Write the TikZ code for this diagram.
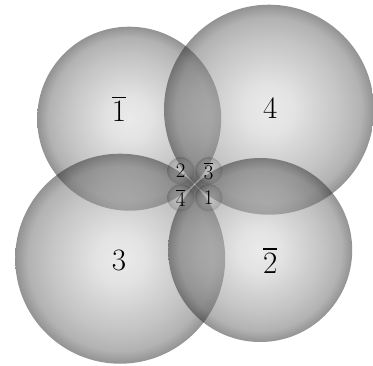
\documentclass[tikz,border=0pt]{standalone}
\usepackage{amsmath,amssymb}
\usepackage{tikz}
\usetikzlibrary{positioning}

\pgfdeclareradialshading{sphere}{\pgfpoint{0bp}{0bp}}{color(0bp)=(black!16); color(6bp)=(black!22); color(11bp)=(black!33); color(17bp)=(black!46); color(22bp)=(black!60); color(25bp)=(black!85); color(50bp)=(black!85)}
\newcommand{\bignum}[1]{\scalebox{1.25}{$#1$}}
\newcommand{\smallnum}[1]{\scalebox{1.2}{$#1$}}

\begin{document}
\begin{tikzpicture}[x=1pt, y=1pt, ball/.style={circle, inner sep=0pt, shading=sphere, fill opacity=0.5, text opacity=1}, big/.style={font=\Huge}, small/.style={font=\LARGE, fill opacity=0.25}]
	\useasboundingbox (-194.7,-180.8) rectangle (178.3,184.2);
	% large spheres
	\node[ball, minimum size=184pt] (s1bar) at (-65.5,65.5) {};
	\node[ball, minimum size=210pt] (s4) at (74.3,74.5) {};
	\node[ball, minimum size=210pt] (s3) at (-74.5,-74.5) {};
	\node[ball, minimum size=184pt] (s2bar) at (65.5,-65.8) {};
	\node[big] (l1bar) at (-75.7,75.5) {\bignum{\overline{1}}};
	\node[big] (l4) at (75.5,75.5) {\bignum{4}};
	\node[big] (l3) at (-75.7,-76) {\bignum{3}};
	\node[big] (l2bar) at (75.5,-76) {\bignum{\overline{2}}};
	% small spheres
	\foreach \nm/\px/\py/\lb in {t2/-14/13.5/2, t3bar/14/13.5/\overline{3}, t4bar/-14/-13.5/\overline{4}, t1/14/-13.5/1}
		{\node[ball, small, minimum size=27pt] (\nm) at (\px,\py) {\smallnum{\lb}};}
\end{tikzpicture}
\end{document}
